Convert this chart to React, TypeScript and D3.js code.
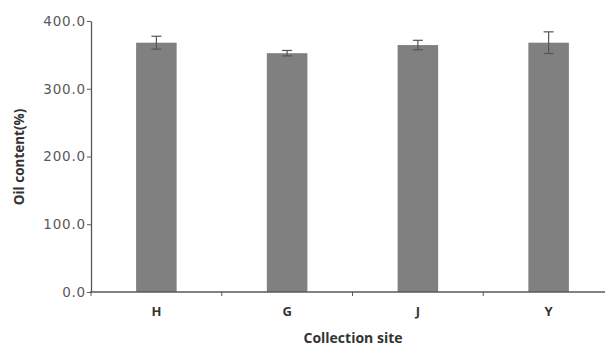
import React, { useEffect, useRef } from 'react';
import * as d3 from 'd3';

const sites = ['H', 'G', 'J', 'Y'];
const oilContent = [368, 352.5, 364.5, 368];
const stdError = [9.5, 4, 7, 16];
const yTicks = [0, 100, 200, 300, 400];

export default function App() {
  const ref = useRef<SVGSVGElement>(null);

  useEffect(() => {
    const svg = d3.select(ref.current);
    svg.selectAll('*').remove();

    const x = d3.scaleBand<string>().domain(sites).range([91, 614]).paddingInner(0.69).paddingOuter(0.345);
    const y = d3.scaleLinear().domain([0, 400]).range([292, 21]);
    const font = 'Open Sans, Liberation Sans, sans-serif';

    // axes
    const yAxis = svg.append('g')
      .attr('transform', 'translate(91,0)')
      .call(d3.axisLeft(y).tickValues(yTicks).tickFormat(d3.format('.1f')).tickSize(4).tickSizeOuter(0));
    yAxis.select('.domain').attr('stroke', '#595959').attr('stroke-width', 1.3);
    yAxis.selectAll('.tick line').attr('stroke', '#595959');
    yAxis.selectAll('.tick text')
      .attr('fill', '#595959').attr('font-size', 13.5).attr('font-family', 'DejaVu Sans, sans-serif')
      .attr('letter-spacing', 0.8).attr('x', -5);

    // bars
    svg.append('g').selectAll('rect')
      .data(sites)
      .join('rect')
      .attr('x', d => x(d)!)
      .attr('width', x.bandwidth())
      .attr('y', (d, i) => y(oilContent[i]))
      .attr('height', (d, i) => y(0) - y(oilContent[i]))
      .attr('fill', '#808080');

    // error bars
    const eb = svg.append('g').attr('stroke', '#555').attr('stroke-width', 1.2);
    sites.forEach((s, i) => {
      const cx = x(s)! + x.bandwidth() / 2;
      const top = y(oilContent[i] + stdError[i]);
      const bot = y(oilContent[i] - stdError[i]);
      eb.append('line').attr('x1', cx).attr('x2', cx).attr('y1', top).attr('y2', bot);
      eb.append('line').attr('x1', cx - 5).attr('x2', cx + 5).attr('y1', top).attr('y2', top);
      eb.append('line').attr('x1', cx - 5).attr('x2', cx + 5).attr('y1', bot).attr('y2', bot);
    });

    // x axis line with boundary ticks
    const g = svg.append('g').attr('stroke', '#595959');
    g.append('line').attr('x1', 90).attr('x2', 614).attr('y1', y(0)).attr('y2', y(0)).attr('stroke-width', 1.3);
    const step = x.step();
    sites.slice(1).forEach(s => {
      const bx = x(s)! - (step - x.bandwidth()) / 2;
      g.append('line').attr('x1', bx).attr('x2', bx).attr('y1', y(0)).attr('y2', y(0) + 4);
    });
    g.append('line').attr('x1', 91).attr('x2', 91).attr('y1', y(0)).attr('y2', y(0) + 4);

    svg.append('g').selectAll('text')
      .data(sites)
      .join('text')
      .attr('x', d => x(d)! + x.bandwidth() / 2)
      .attr('y', 316)
      .attr('text-anchor', 'middle')
      .attr('font-family', font).attr('font-weight', 'bold').attr('font-size', 13)
      .attr('fill', '#333')
      .text(d => d);

    svg.append('text')
      .attr('x', 353).attr('y', 343)
      .attr('text-anchor', 'middle')
      .attr('font-family', font).attr('font-weight', 'bold').attr('font-size', 14)
      .attr('fill', '#333')
      .text('Collection site');

    svg.append('text')
      .attr('transform', 'translate(24,157) rotate(-90)')
      .attr('text-anchor', 'middle')
      .attr('font-family', font).attr('font-weight', 'bold').attr('font-size', 13.5)
      .attr('fill', '#333')
      .text('Oil content(%)');
  }, []);

  return (
    <svg ref={ref} width={605} height={347}
      style={{ position: 'absolute', left: 0, top: 0, background: '#fff' }} />
  );
}
